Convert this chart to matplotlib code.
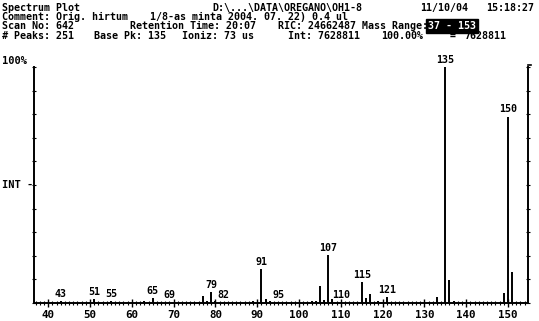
import numpy as np
import matplotlib.pyplot as plt
from matplotlib.ticker import MultipleLocator

W, H = 539, 321

# m/z and relative abundance (%) of the peaks
mz = [39, 41, 43, 45, 50, 51, 53, 55, 57, 59, 63, 65, 67, 69, 74, 76, 77, 78, 79, 80,
      82, 84, 89, 91, 92, 93, 95, 97, 102, 103, 104, 105, 106, 107, 108, 110, 115, 116,
      117, 119, 121, 131, 132, 133, 134, 135, 136, 137, 148, 149, 150, 151, 152]
rel = [0.5, 0.6, 1.0, 0.4, 0.5, 1.8, 0.6, 1.0, 0.5, 0.4, 0.8, 2.0, 0.5, 0.6, 0.5, 0.6,
       3.0, 0.7, 4.8, 0.8, 0.5, 0.4, 0.8, 14.3, 1.5, 0.8, 0.6, 0.4, 0.6, 1.0, 0.8, 7.3,
       1.3, 20.3, 1.5, 0.6, 9.0, 2.0, 3.8, 1.0, 2.5, 0.5, 0.6, 2.7, 0.6, 100.0, 9.7, 0.8,
       0.5, 4.4, 79.0, 13.0, 0.5]
labelled = [43, 51, 55, 65, 69, 79, 82, 91, 95, 107, 110, 115, 121, 135, 150]
xticks = list(range(40, 151, 10))

fig = plt.figure(figsize=(W / 100, H / 100), dpi=100)
fig.patch.set_facecolor('white')

left, right, top, bottom = 34, 528, 67, 303
ax = fig.add_axes([left / W, 1 - bottom / H, (right - left) / W, (bottom - top) / H])
ax.set_xlim(36.6, 154.8)
ax.set_ylim(0, 100)

ax.vlines(mz, 0, rel, colors='black', linewidth=1.4)

for m in labelled:
    r = rel[mz.index(m)]
    ax.annotate(str(m), (m, r), xytext=(0, 1.5), textcoords='offset points',
                ha='center', va='bottom', fontsize=7.2, fontweight='bold',
                family='DejaVu Sans Mono', color='black')

for s in ['left', 'right', 'bottom']:
    ax.spines[s].set_linewidth(1.4)
ax.spines['top'].set_visible(False)

ax.set_xticks(xticks)
ax.xaxis.set_minor_locator(MultipleLocator(1))
ax.tick_params(axis='x', which='major', direction='inout', length=6, width=1,
               labelsize=7.8, pad=2)
ax.tick_params(axis='x', which='minor', direction='inout', length=3, width=0.8)
for t in ax.get_xticklabels():
    t.set_fontweight('bold')
    t.set_family('DejaVu Sans Mono')

ax.yaxis.set_major_locator(MultipleLocator(10))
ax.tick_params(axis='y', which='major', left=True, right=True, direction='inout',
               length=3, width=0.8, labelleft=False)

# little bracket at the top of the right axis
ax.plot([1, 1.006], [1.008, 1.008], transform=ax.transAxes, color='black',
        linewidth=1.2, clip_on=False)


def put(x, y, s, **kw):
    kw.setdefault('fontsize', 7.2)
    fig.text(x / W, 1 - y / H, s, family='DejaVu Sans Mono', fontweight='bold',
             va='center', ha='left', color='black', **kw)


# header block
put(2, 8, 'Spectrum Plot')
put(212, 8, 'D:\\...\\DATA\\OREGANO\\OH1-8')
put(420, 8, '11/10/04')
put(486, 8, '15:18:27')
put(2, 17, 'Comment: Orig. hirtum')
put(150, 17, '1/8-as minta 2004. 07. 22) 0.4 ul')
put(2, 26, 'Scan No: 642')
put(130, 26, 'Retention Time: 20:07')
put(278, 26, 'RIC: 24662487')
put(362, 26, 'Mass Range:')
fig.text(428 / W, 1 - 26 / H, '37 - 153', family='DejaVu Sans Mono', fontweight='bold',
         fontsize=7.2, va='center', ha='left', color='white',
         bbox=dict(facecolor='black', edgecolor='black', pad=1.2))
put(2, 36, '# Peaks: 251')
put(94, 36, 'Base Pk: 135')
put(182, 36, 'Ioniz: 73 us')
put(288, 36, 'Int: 7628811')
put(381, 36, '100.00%')
put(450, 36, '=')
put(464, 36, '7628811')
put(2, 61, '100%', fontsize=7.5)
put(2, 185, 'INT -', fontsize=7.5)

fig.savefig('out.png', dpi=100, facecolor='white')
